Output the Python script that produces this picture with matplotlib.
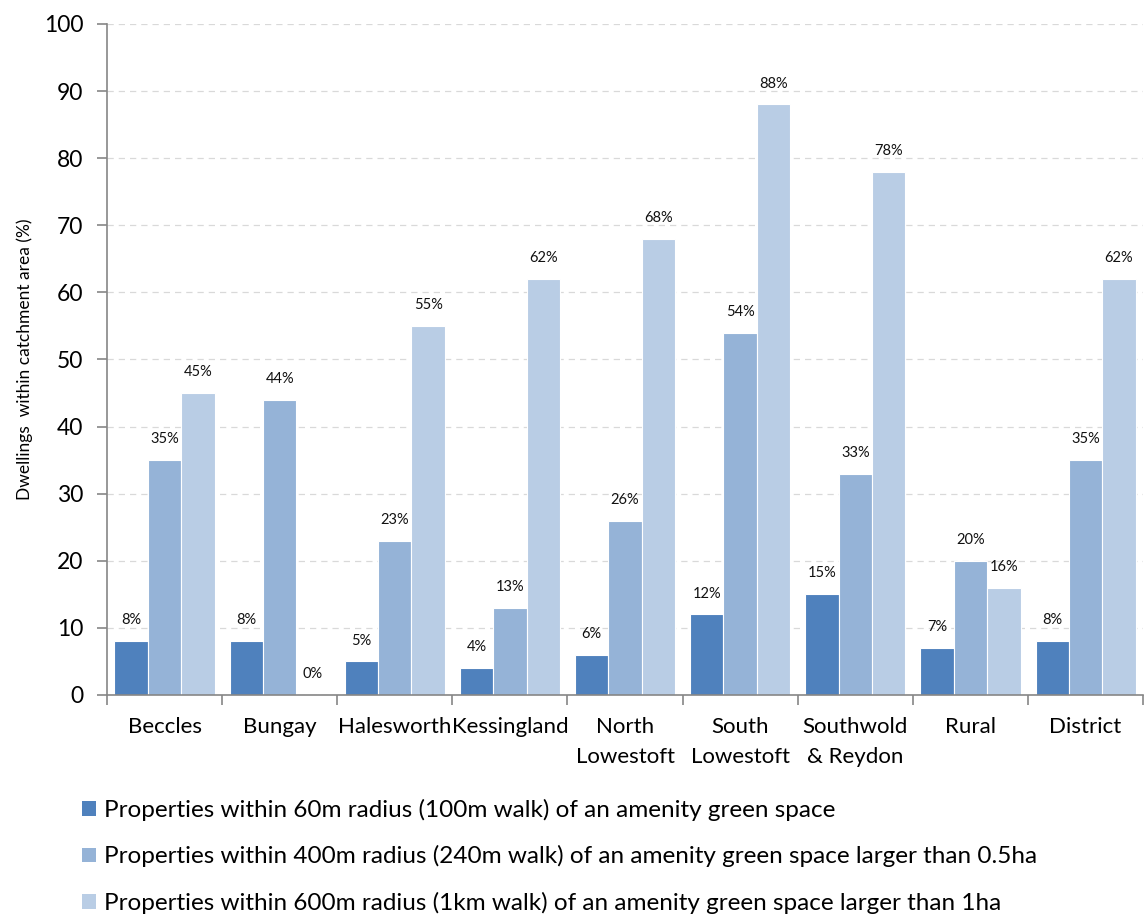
import numpy as np
import matplotlib
matplotlib.use("Agg")
import matplotlib.pyplot as plt
from matplotlib.patches import Patch

plt.rcParams['font.family'] = ['Lato', 'DejaVu Sans']

areas = ["Beccles", "Bungay", "Halesworth", "Kessingland", "North\nLowestoft",
         "South\nLowestoft", "Southwold\n& Reydon", "Rural", "District"]
within_60m = [8, 8, 5, 4, 6, 12, 15, 7, 8]
within_400m = [35, 44, 23, 13, 26, 54, 33, 20, 35]
within_600m = [45, 0, 55, 62, 68, 88, 78, 16, 62]
series_names = [
    "Properties within 60m radius (100m walk) of an amenity green space",
    "Properties within 400m radius (240m walk) of an amenity green space larger than 0.5ha",
    "Properties within 600m radius (1km walk) of an amenity green space larger than 1ha",
]
colors = ["#4F81BD", "#95B3D7", "#B9CDE5"]

fig = plt.figure(figsize=(11.45, 9.21), dpi=100)
ax = fig.add_axes([0.0934, 0.2454, 0.905, 0.7286])

x = np.arange(len(areas)) + 0.5
w = 0.29
for i, vals in enumerate([within_60m, within_400m, within_600m]):
    pos = x + (i - 1) * w
    ax.bar(pos, vals, width=w, color=colors[i], edgecolor="white", linewidth=0.8, zorder=2)
    for p, v in zip(pos, vals):
        ax.annotate(f"{v}%", (p, v), xytext=(0, 15), textcoords="offset points",
                    ha="center", va="center", fontsize=10.5, color="#111111")

ax.set_xlim(0, len(areas))
ax.set_ylim(0, 100)
ax.set_yticks(range(0, 101, 10))
ax.tick_params(axis="y", labelsize=16.5, length=7, width=1.2, color="#868686",
               direction="out", pad=10)
ax.set_xticks(np.arange(len(areas) + 1))
ax.set_xticklabels([])
ax.set_xticks(x, minor=True)
ax.set_xticklabels(areas, minor=True, fontsize=16, linespacing=1.6)
ax.tick_params(axis="x", which="major", length=7, width=1.2, color="#868686")
ax.tick_params(axis="x", which="minor", length=0, pad=16)

for s in ["top", "right"]:
    ax.spines[s].set_visible(False)
for s in ["left", "bottom"]:
    ax.spines[s].set_color("#868686")
    ax.spines[s].set_linewidth(1.2)

ax.yaxis.grid(True, linestyle=(0, (5, 4)), color="#D9D9D9", linewidth=0.9, zorder=0)
ax.set_axisbelow(True)
ax.set_ylabel("Dwellings  within catchment area (%)", fontsize=12.5, labelpad=8)

handles = [Patch(facecolor=c, edgecolor="none") for c in colors]
fig.legend(handles, series_names, loc="upper left", bbox_to_anchor=(0.072, 0.1325),
           frameon=False, fontsize=17.5, handlelength=0.55, handleheight=0.55,
           handletextpad=0.35, labelspacing=1.0, borderaxespad=0, borderpad=0)

fig.savefig("out.png", dpi=100)
